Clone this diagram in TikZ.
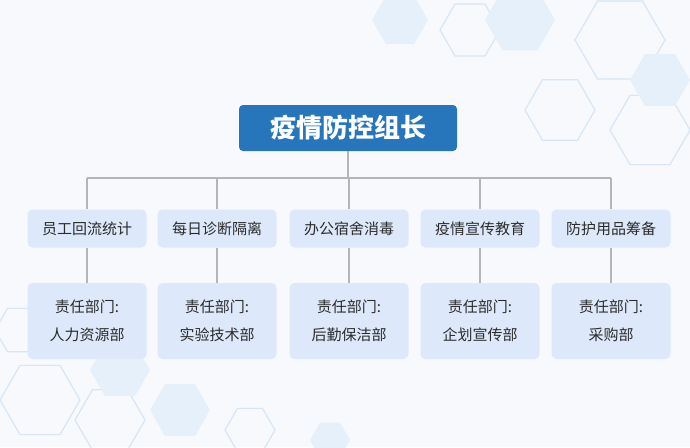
\documentclass[tikz,border=0pt]{standalone}
\usepackage{fontspec}
\newfontfamily\cjk{Noto Sans CJK SC}
\definecolor{bgc}{HTML}{F7F9FD}
\definecolor{topc}{HTML}{2775BA}
\definecolor{boxc}{HTML}{DDE9FB}
\definecolor{linec}{HTML}{B5B5B5}
\definecolor{hexc}{HTML}{D6E6F6}
\definecolor{txtc}{HTML}{2B2B2B}
\tikzset{
 topbox/.style={fill=topc,rounded corners=4pt,minimum width=218pt,minimum height=46pt,text=white,font=\cjk\bfseries\fontsize{26}{28}\selectfont},
 midbox/.style={fill=boxc,rounded corners=5pt,minimum width=119pt,minimum height=38pt,text=txtc,font=\cjk\fontsize{15}{16}\selectfont},
 lowbox/.style={fill=boxc,rounded corners=5pt,minimum width=119pt,minimum height=76pt,text=txtc,align=center,font=\cjk\fontsize{15}{28}\selectfont},
 conn/.style={draw=linec,line width=1.5pt},
 hex/.style={draw=hexc,line width=1.2pt},
 hexf/.style={fill=hexc!60}
}
\begin{document}
\begin{tikzpicture}[x=1pt,y=-1pt]
\fill[bgc] (0,0) rectangle (690,447);
\useasboundingbox (0,0) rectangle (690,447);
\foreach \cx/\cy/\r/\s in {620/40/45/hex,560/110/35/hex,650/130/40/hex,470/30/30/hex,400/20/28/hexf,520/20/35/hexf,660/80/30/hexf,40/400/40/hex,110/420/35/hex,180/410/30/hexf,20/330/25/hex,250/430/25/hex,330/440/20/hexf,120/370/30/hexf}{
 \path[\s] (\cx+\r,\cy) -- (\cx+\r/2,\cy+0.866*\r) -- (\cx-\r/2,\cy+0.866*\r) -- (\cx-\r,\cy) -- (\cx-\r/2,\cy-0.866*\r) -- (\cx+\r/2,\cy-0.866*\r) -- cycle;
}
\node[topbox] (top) at (348,128) {疫情防控组长};
\coordinate (bus) at (348,178);
\foreach \i/\x/\a/\b in {1/87/员工回流统计/人力资源部,2/217/每日诊断隔离/实验技术部,3/349/办公宿舍消毒/后勤保洁部,4/480/疫情宣传教育/企划宣传部,5/611/防护用品筹备/采购部}{
 \node[midbox] (m\i) at (\x,228.5) {\a};
 \node[lowbox] (l\i) at (\x,321) {责任部门:\\\b};
 \coordinate (c\i) at (\x,178);
 \draw[conn] (c\i) -- (m\i.north);
 \draw[conn] (m\i.south) -- (l\i.north);
}
\draw[conn] (c1) -- (c5);
\draw[conn] (top.south) -- (bus);
\end{tikzpicture}
\end{document}
